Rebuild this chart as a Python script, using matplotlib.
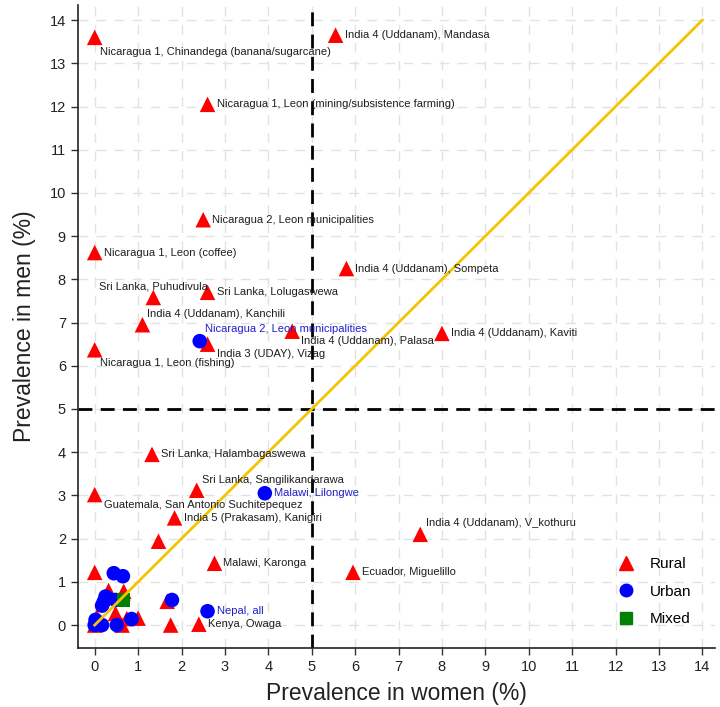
import matplotlib
matplotlib.use("Agg")
import matplotlib.pyplot as plt
from matplotlib.lines import Line2D

plt.rcParams['font.family'] = ['Liberation Sans', 'DejaVu Sans']

# ---------------- data ----------------
rural_x = [0.0, 5.55, 2.6, 2.5, 0.0, 5.8, 1.35, 2.6, 1.1, 4.55, 8.0, 2.6, 0.0,
           1.32, 2.35, 0.0, 1.84, 1.47, 7.5, 2.76, 5.95, 0.0, 1.75, 2.4, 1.67, 1.0,
           0.32, 0.67, 0.05, 0.48, 0.74, 0.0, 0.63, 0.65]
rural_y = [13.6, 13.65, 12.05, 9.38, 8.62, 8.25, 7.58, 7.7, 6.95, 6.8, 6.75, 6.5, 6.37,
           3.95, 3.12, 3.02, 2.48, 1.94, 2.1, 1.43, 1.22, 1.22, 0.0, 0.02, 0.55, 0.16,
           0.8, 0.78, 0.19, 0.27, 0.15, 0.0, 0.0, 0.73]
rural_labels = ["Nicaragua 1, Chinandega (banana/sugarcane)", "India 4 (Uddanam), Mandasa",
                "Nicaragua 1, Leon (mining/subsistence farming)", "Nicaragua 2, Leon municipalities",
                "Nicaragua 1, Leon (coffee)", "India 4 (Uddanam), Sompeta",
                "Sri Lanka, Puhudivula", "Sri Lanka, Lolugaswewa",
                "India 4 (Uddanam), Kanchili", "India 4 (Uddanam), Palasa",
                "India 4 (Uddanam), Kaviti", "India 3 (UDAY), Vizag",
                "Nicaragua 1, Leon (fishing)", "Sri Lanka, Halambagaswewa",
                "Sri Lanka, Sangilikandarawa", "Guatemala, San Antonio Suchitepequez",
                "India 5 (Prakasam), Kanigiri", "", "India 4 (Uddanam), V_kothuru",
                "Malawi, Karonga", "Ecuador, Miguelillo", "", "", "Kenya, Owaga", "", "",
                "", "", "", "", "", "", "", ""]

urban_x = [2.42, 3.92, 2.6, 1.78, 0.85, 0.44, 0.65, 0.25, 0.21, 0.17, 0.48, 0.02, 0.17, 0.51, 0.0, 0.3]
urban_y = [6.57, 3.05, 0.32, 0.58, 0.14, 1.2, 1.13, 0.66, 0.54, 0.45, 0.58, 0.12, 0.0, 0.0, 0.0, 0.62]
urban_labels = ["Nicaragua 2, Leon municipalities", "Malawi, Lilongwe", "Nepal, all",
                "", "", "", "", "", "", "", "", "", "", "", "", ""]

mixed_x = [0.67]
mixed_y = [0.58]

ticks = list(range(0, 15))

# label placement (pixel offsets), default = right of marker
PX = 0.72
label_offsets = {
    "Nicaragua 1, Chinandega (banana/sugarcane)": (5, -15, 'left'),
    "Nicaragua 1, Leon (fishing)": (5, -13, 'left'),
    "Guatemala, San Antonio Suchitepequez": (9, -10, 'left'),
    "India 4 (Uddanam), Palasa": (9, -10, 'left'),
    "India 3 (UDAY), Vizag": (9, -10, 'left'),
    "India 4 (Uddanam), Kanchili": (5, 11, 'left'),
    "Sri Lanka, Sangilikandarawa": (5, 10, 'left'),
    "India 4 (Uddanam), V_kothuru": (6, 11, 'left'),
    "Sri Lanka, Puhudivula": (0, 11, 'center'),
    "urban:Nicaragua 2, Leon municipalities": (5, 12, 'left'),
}

# ---------------- figure ----------------
fig = plt.figure(figsize=(7.2, 7.07), dpi=100)
ax = fig.add_axes([0.108, 0.0835, 0.885, 0.9095])

ax.set_xlim(-0.39, 14.29)
ax.set_ylim(-0.53, 14.35)

for t in ticks:
    ax.axvline(t, color='#E2E2E2', lw=1.0, ls=(0, (7, 6)), zorder=0)
    ax.axhline(t, color='#E2E2E2', lw=1.0, ls=(0, (7, 6)), zorder=0)

ax.axvline(5, color='black', lw=2.0, ls=(0, (5, 3)), zorder=1)
ax.axhline(5, color='black', lw=2.0, ls=(0, (5, 3)), zorder=1)
ax.plot([0, 14], [0, 14], color='#F5C400', lw=2.0, zorder=4)

ax.scatter(rural_x, rural_y, marker='^', s=125, color='#FF0000', edgecolors='none', zorder=3)
ax.scatter(urban_x, urban_y, marker='o', s=110, color='#0000FF', edgecolors='none', zorder=3)
ax.scatter(mixed_x, mixed_y, marker='s', s=90, color='#008000', edgecolors='none', zorder=3)

def place(xs, ys, labels, color, prefix=""):
    for x, y, lab in zip(xs, ys, labels):
        if not lab:
            continue
        key = prefix + lab
        dx, dy, ha = label_offsets.get(key, (9, 0, 'left'))
        ax.annotate(lab, (x, y), xytext=(dx * PX, dy * PX), textcoords='offset points',
                    ha=ha, va='center', fontsize=8, color=color, zorder=5)

place(rural_x, rural_y, rural_labels, '#1e1e1e')
place(urban_x, urban_y, urban_labels, '#2020C8', prefix="urban:")

ax.set_xticks(ticks)
ax.set_yticks(ticks)
ax.tick_params(axis='both', labelsize=10.5, length=5, width=1, colors='#333333', labelcolor='#222222')
for s in ['top', 'right']:
    ax.spines[s].set_visible(False)
for s in ['left', 'bottom']:
    ax.spines[s].set_linewidth(1.2)
    ax.spines[s].set_color('#222222')

ax.set_xlabel("Prevalence in women (%)", fontsize=16.5, color='#222222', labelpad=6)
ax.set_ylabel("Prevalence in men (%)", fontsize=16.5, color='#222222', labelpad=10)

handles = [
    Line2D([], [], marker='^', ls='none', color='#FF0000', markersize=10),
    Line2D([], [], marker='o', ls='none', color='#0000FF', markersize=9),
    Line2D([], [], marker='s', ls='none', color='#008000', markersize=8),
]
ax.legend(handles, ["Rural", "Urban", "Mixed"], loc='lower right',
          bbox_to_anchor=(0.985, 0.012), frameon=False, fontsize=11,
          labelspacing=0.9, handletextpad=0.6)

fig.savefig("out.png", dpi=100)
